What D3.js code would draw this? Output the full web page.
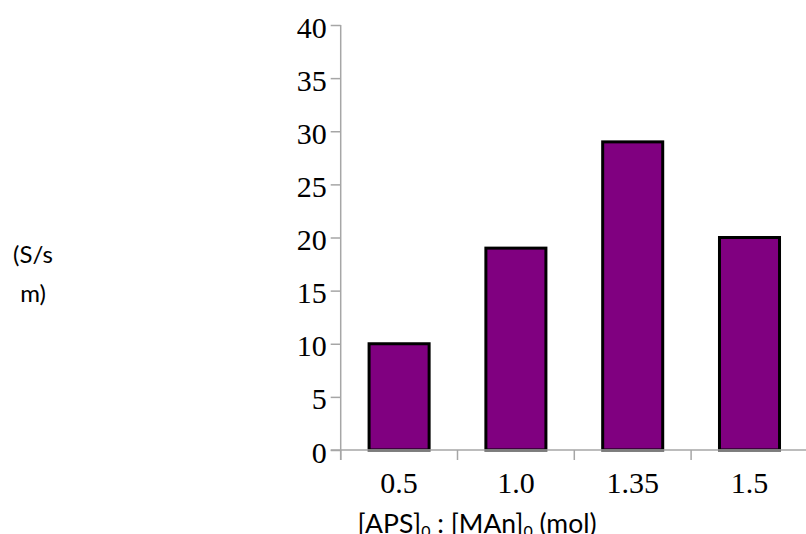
<!DOCTYPE html>
<html><head><meta charset="utf-8">
<script src="https://cdn.jsdelivr.net/npm/d3@7"></script>
<style>body{margin:0;background:#fff}svg{display:block}</style>
</head><body>
<svg id="c" width="806" height="534"></svg>
<script>
const categories = ["0.5", "1.0", "1.35", "1.5"];
const values = [10, 19, 29, 20];
const yTicks = [0, 5, 10, 15, 20, 25, 30, 35, 40];
const xTitle = ["[APS]", "0", " : [MAn]", "0", " (mol)"];
const yTitle = ["(S/s", "m)"];

const svg = d3.select("#c");
const x0 = 340.7, step = 116.8;
const x = d3.scaleBand().domain(categories).range([x0, x0 + step * categories.length]).paddingInner(0.486).paddingOuter(0.243);
const y = d3.scaleLinear().domain([0, 40]).range([450, 25]);
const axisColor = "#a6a6a6";

// bars
svg.selectAll("rect.bar").data(values).join("rect")
  .attr("x", (d, i) => x(categories[i]))
  .attr("y", d => y(d))
  .attr("width", x.bandwidth())
  .attr("height", d => y(0) - y(d))
  .attr("fill", "#800080").attr("stroke", "#000").attr("stroke-width", 3);

// y axis
const ya = svg.append("g").attr("transform", `translate(${x0},0)`)
  .call(d3.axisLeft(y).tickValues(yTicks).tickSize(10).tickPadding(4).tickFormat(d3.format("d")));
ya.select(".domain").remove();
ya.selectAll(".tick line").attr("stroke", axisColor).attr("stroke-width", 1.5);
ya.selectAll(".tick text").attr("font-family", "Liberation Serif").attr("font-size", 30).attr("fill", "#000").attr("dy", "0.4em");
svg.append("line").attr("x1", x0).attr("x2", x0).attr("y1", y(40)).attr("y2", y(0) + 10)
  .attr("stroke", axisColor).attr("stroke-width", 1.5);

// x axis
svg.append("line").attr("x1", x0 - 10).attr("x2", 806).attr("y1", y(0)).attr("y2", y(0))
  .attr("stroke", axisColor).attr("stroke-width", 1.5);
const bounds = d3.range(categories.length + 1).map(i => x0 + i * step);
svg.selectAll("line.xt").data(bounds).join("line")
  .attr("x1", d => d).attr("x2", d => d).attr("y1", y(0)).attr("y2", y(0) + 10)
  .attr("stroke", axisColor).attr("stroke-width", 1.5);
const xa = svg.append("g").attr("transform", `translate(0,${y(0)})`)
  .call(d3.axisBottom(x).tickSize(0).tickPadding(0));
xa.select(".domain").remove();
xa.selectAll(".tick text").attr("font-family", "Liberation Serif").attr("font-size", 30).attr("fill", "#000")
  .attr("y", 43).attr("dy", 0);

// x title
const xt = svg.append("text").attr("x", 477).attr("y", 533).attr("text-anchor", "middle")
  .attr("font-family", "Lato").attr("font-size", 26.5).attr("fill", "#000");
xTitle.forEach((t, i) => {
  const s = xt.append("tspan").text(t);
  if (i % 2 === 1) s.attr("font-size", 16).attr("dy", 4);
  else if (i > 0) s.attr("dy", -4);
});

// y title
svg.append("text").attr("text-anchor", "middle").attr("font-family", "Lato").attr("font-size", 24).attr("fill", "#000")
  .selectAll("tspan").data(yTitle).join("tspan")
  .attr("x", 33).attr("y", (d, i) => 263 + i * 39).text(d => d);
</script>
</body></html>
